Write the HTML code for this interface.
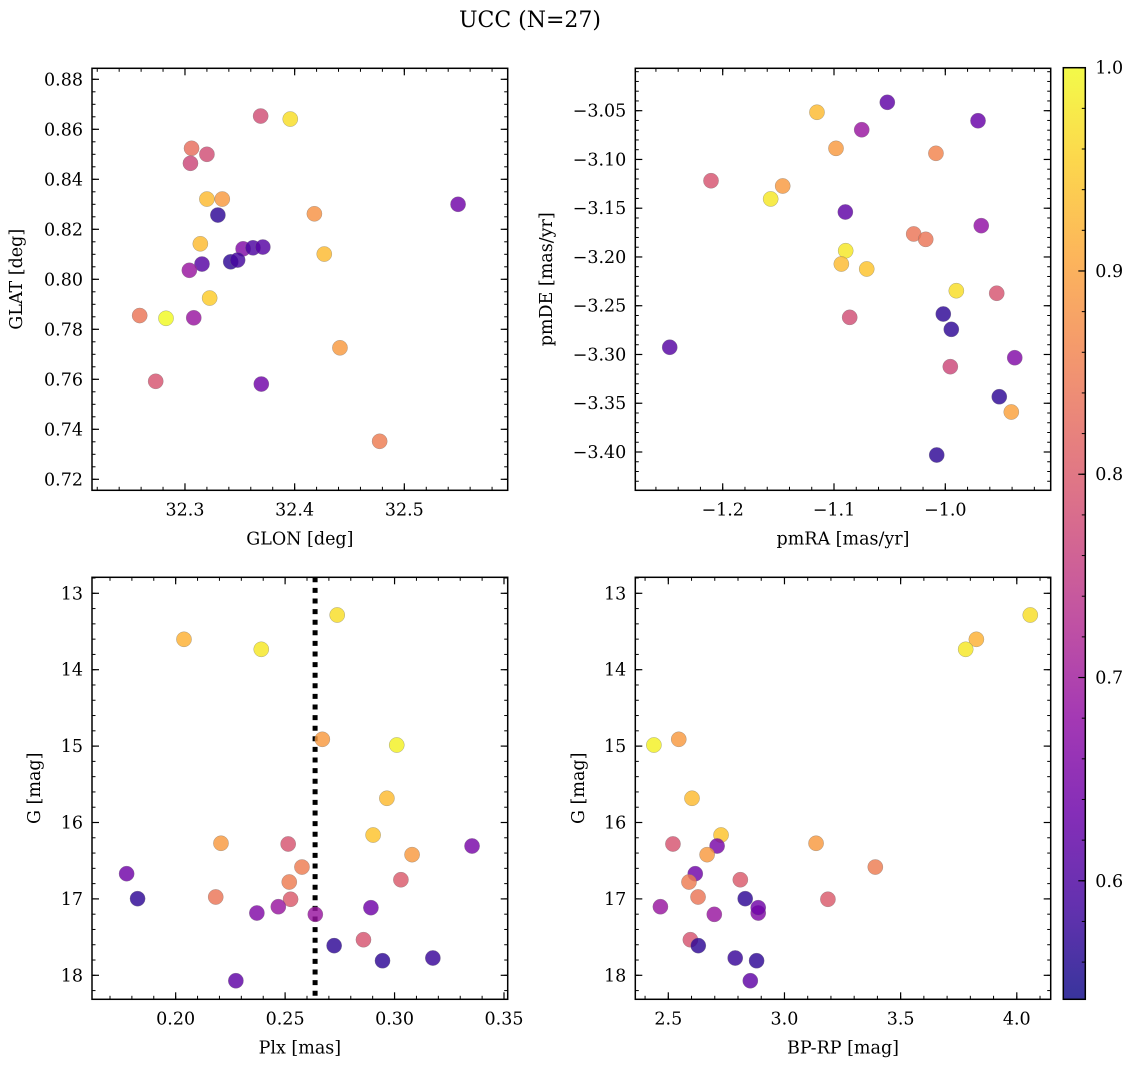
<!DOCTYPE html>
<html><head><meta charset="utf-8">
<style>
html,body{margin:0;padding:0;background:#fff;}
svg{display:block;font-family:"DejaVu Serif","Liberation Serif",serif;}
</style></head>
<body>
<svg id="fig" width="1136" height="1067" viewBox="0 0 1136 1067" xmlns="http://www.w3.org/2000/svg">
<rect width="1136" height="1067" fill="#fff"/>
<text x="530" y="27" font-size="22" text-anchor="middle" fill="#000">UCC (N=27)</text>
</svg>
<script>
// ---- Panel A: GLON / GLAT ----
const glon = [32.369,32.396,32.306,32.320,32.305,32.320,32.334,32.330,32.418,32.549,32.314,32.353,32.362,32.371,32.427,32.3155,32.3417,32.348,32.304,32.3225,32.2587,32.2827,32.308,32.4413,32.2733,32.3696,32.4775];
const glat = [0.8653,0.8641,0.8524,0.850,0.8464,0.8321,0.8321,0.8257,0.8262,0.830,0.8142,0.8122,0.8126,0.8129,0.8101,0.8061,0.8070,0.8077,0.8036,0.7925,0.7855,0.7844,0.7846,0.7726,0.7592,0.7581,0.7352];
const probA = [0.78,0.97,0.83,0.78,0.77,0.93,0.89,0.57,0.88,0.64,0.93,0.66,0.60,0.61,0.93,0.61,0.57,0.59,0.69,0.95,0.84,1.0,0.69,0.89,0.79,0.64,0.85];
// ---- Panel B: pmRA / pmDE ----
const pmra = [-1.0521,-1.1153,-1.0751,-0.9706,-1.0982,-1.0084,-1.2105,-1.1461,-1.1569,-1.0898,-0.9677,-1.0284,-1.0176,-1.0895,-1.0934,-1.0706,-0.9901,-0.9538,-1.0859,-1.0018,-0.9946,-1.2476,-0.9376,-0.9955,-0.9515,-0.9407,-1.0077];
const pmde = [-3.0414,-3.0516,-3.0695,-3.0603,-3.0886,-3.0937,-3.1218,-3.1272,-3.1405,-3.1539,-3.1679,-3.1764,-3.1819,-3.1936,-3.2072,-3.2123,-3.2346,-3.2372,-3.2619,-3.2585,-3.2742,-3.2926,-3.3033,-3.3125,-3.3433,-3.3590,-3.4031];
const probB = [0.62,0.93,0.69,0.63,0.89,0.86,0.79,0.89,0.98,0.62,0.68,0.84,0.84,0.98,0.93,0.94,0.97,0.79,0.78,0.57,0.57,0.61,0.66,0.77,0.57,0.90,0.57];
// ---- Panels C/D: Plx, G, BP-RP ----
const plx  = [0.2738,0.2038,0.2391,0.2670,0.3010,0.2965,0.2902,0.2207,0.2514,0.3354,0.3080,0.1776,0.2577,0.2519,0.3029,0.1826,0.2183,0.2525,0.2469,0.2371,0.2638,0.2892,0.2858,0.2724,0.3175,0.2945,0.2275];
const gmag = [13.284,13.602,13.733,14.911,14.986,15.683,16.164,16.272,16.281,16.308,16.421,16.670,16.583,16.779,16.749,16.997,16.975,17.005,17.102,17.185,17.202,17.115,17.534,17.612,17.774,17.809,18.071];
const bprp = [4.058,3.826,3.780,2.545,2.438,2.602,2.727,3.136,2.520,2.710,2.667,2.616,3.391,2.589,2.810,2.831,2.628,3.187,2.466,2.887,2.698,2.887,2.595,2.629,2.788,2.880,2.853];
const probC = [0.97,0.92,0.98,0.89,0.99,0.93,0.94,0.89,0.79,0.65,0.89,0.64,0.85,0.85,0.80,0.57,0.84,0.80,0.69,0.66,0.69,0.64,0.79,0.57,0.58,0.57,0.62];
const plxCut = [0.2637];
// ticks
const ticksA_x=[32.3,32.4,32.5], ticksA_y=[0.72,0.74,0.76,0.78,0.80,0.82,0.84,0.86,0.88];
const ticksB_x=[-1.2,-1.1,-1.0], ticksB_y=[-3.05,-3.10,-3.15,-3.20,-3.25,-3.30,-3.35,-3.40];
const ticksC_x=[0.20,0.25,0.30,0.35], ticksG=[13,14,15,16,17,18];
const ticksD_x=[2.5,3.0,3.5,4.0];
const cbTicks=[0.6,0.7,0.8,0.9,1.0];
const vmin=0.5417, vmax=1.0;

const NS="http://www.w3.org/2000/svg";
const svg=document.getElementById('fig');
function el(tag,attrs,parent){const e=document.createElementNS(NS,tag);for(const k in attrs)e.setAttribute(k,attrs[k]);(parent||svg).appendChild(e);return e;}

const plasma=[[13,8,135],[65,4,157],[106,0,168],[143,13,164],[177,42,144],[204,71,120],[225,100,98],[242,132,75],[252,166,54],[252,206,37],[240,249,33]];
function cmap(v){let t=(v-vmin)/(vmax-vmin);t=Math.max(0,Math.min(1,t))*10;const i=Math.min(9,Math.floor(t)),f=t-i;const a=plasma[i],b=plasma[i+1];
 return 'rgb('+a.map((c,k)=>Math.round(c+(b[k]-c)*f)).join(',')+')';}

function fmt(v,d){let s=v.toFixed(d);return s.replace('-','\u2212');}

function panel(o){
  const g=el('g',{});
  
  
  const sx=v=>o.x0+(v-o.xmin)/(o.xmax-o.xmin)*(o.x1-o.x0);
  const sy=o.inv? v=>o.y0+(v-o.ymin)/(o.ymax-o.ymin)*(o.y1-o.y0) : v=>o.y1-(v-o.ymin)/(o.ymax-o.ymin)*(o.y1-o.y0);
  const mt=(a,b,st)=>{const r=[];for(let v=Math.ceil(a/st-1e-6)*st;v<=b+1e-9;v+=st)r.push(v);return r;};
  mt(o.xmin,o.xmax,o.xminor).forEach(v=>{const x=sx(v);
    el('line',{x1:x,x2:x,y1:o.y1,y2:o.y1-3.5,stroke:'#000','stroke-width':1},g);
    el('line',{x1:x,x2:x,y1:o.y0,y2:o.y0+3.5,stroke:'#000','stroke-width':1},g);});
  mt(Math.min(o.ymin,o.ymax),Math.max(o.ymin,o.ymax),o.yminor).forEach(v=>{const y=sy(v);
    el('line',{x1:o.x0,x2:o.x0+3.5,y1:y,y2:y,stroke:'#000','stroke-width':1},g);
    el('line',{x1:o.x1,x2:o.x1-3.5,y1:y,y2:y,stroke:'#000','stroke-width':1},g);});
  o.xt.forEach(v=>{const x=sx(v);
    el('line',{x1:x,x2:x,y1:o.y1,y2:o.y1-7,stroke:'#000','stroke-width':1.2},g);
    el('line',{x1:x,x2:x,y1:o.y0,y2:o.y0+7,stroke:'#000','stroke-width':1.2},g);
    const t=el('text',{x:x,y:o.y1+25,'font-size':17.5,'text-anchor':'middle'},g);t.textContent=fmt(v,o.xd);
    
    });
  o.yt.forEach(v=>{const y=sy(v);
    el('line',{x1:o.x0,x2:o.x0+7,y1:y,y2:y,stroke:'#000','stroke-width':1.2},g);
    el('line',{x1:o.x1,x2:o.x1-7,y1:y,y2:y,stroke:'#000','stroke-width':1.2},g);
    const t=el('text',{x:o.x0-9,y:y+6,'font-size':17.5,'text-anchor':'end'},g);t.textContent=fmt(v,o.yd);
    
    });
  if(o.vline){o.vline.forEach(v=>{const x=sx(v);const l=el('line',{x1:x,x2:x,y1:o.y0,y2:o.y1,stroke:'#000','stroke-width':5,'stroke-dasharray':'5 5.6'},g);
    
    });}
  o.xs.forEach((xv,i)=>{const c=el('circle',{cx:sx(xv),cy:sy(o.ys[i]),r:7.6,fill:cmap(o.c[i]),'fill-opacity':0.82,stroke:'#777','stroke-opacity':0.6,'stroke-width':0.5},g);
    
    });
  el('rect',{x:o.x0,y:o.y0,width:o.x1-o.x0,height:o.y1-o.y0,fill:'none',stroke:'#000','stroke-width':1.5},g);
  const xl=el('text',{x:(o.x0+o.x1)/2,y:o.y1+54,'font-size':17.5,'text-anchor':'middle'},g);xl.textContent=o.xlab;
  
  
  const yl=el('text',{x:0,y:0,'font-size':17.5,'text-anchor':'middle',transform:'translate('+o.ylx+','+(o.y0+o.y1)/2+') rotate(-90)'},g);yl.textContent=o.ylab;
  
  
}
panel({name:'glon-glat-panel',x0:92,x1:507.7,y0:68.3,y1:490.3,xmin:32.3-93/1097,xmax:32.5+103.4/1097,ymin:0.72-(490.3-479.3)/2500,ymax:0.88+11/2500,
  xminor:0.02,yminor:0.005,xt:ticksA_x,yt:ticksA_y,xd:1,yd:2,xs:glon,ys:glat,c:probA,xlab:'GLON [deg]',ylab:'GLAT [deg]',ylx:22});
panel({name:'pm-panel',x0:635.3,x1:1050.7,y0:68.3,y1:490.3,xmin:-1.2-87.4/1113,xmax:-1.0+105.4/1113,ymin:-3.40-38.3/975.2,ymax:-3.05+42.4/975.2,
  xminor:0.02,yminor:0.01,xt:ticksB_x,yt:ticksB_y,xd:1,yd:2,xs:pmra,ys:pmde,c:probB,xlab:'pmRA [mas/yr]',ylab:'pmDE [mas/yr]',ylx:552});
panel({name:'plx-g-panel',x0:92,x1:507.7,y0:577.3,y1:999.3,xmin:0.2-83.7/2190,xmax:0.35+3.7/2190,ymin:13-16/76.4,ymax:18+(999.3-975.3)/76.4,inv:true,
  xminor:0.01,yminor:0.2,xt:ticksC_x,yt:ticksG,xd:2,yd:0,xs:plx,ys:gmag,c:probC,xlab:'Plx [mas]',ylab:'G [mag]',ylx:40,vline:plxCut});
panel({name:'cmd-panel',x0:635.3,x1:1050.7,y0:577.3,y1:999.3,xmin:2.5-33/232.3,xmax:4.0+33.9/232.3,ymin:13-16/76.4,ymax:18+(999.3-975.3)/76.4,inv:true,
  xminor:0.1,yminor:0.2,xt:ticksD_x,yt:ticksG,xd:1,yd:0,xs:bprp,ys:gmag,c:probC,xlab:'BP-RP [mag]',ylab:'G [mag]',ylx:584});

// colorbar
(function(){
  const x0=1063.3,x1=1085.3,y0=67.7,y1=999.3;
  const g=el('g',{});
  
  
  const defs=el('defs',{},g);
  const lg=el('linearGradient',{id:'cbg',x1:0,y1:1,x2:0,y2:0},defs);
  for(let i=0;i<=20;i++){const v=vmin+(vmax-vmin)*i/20;el('stop',{offset:(i/20),'stop-color':cmap(v),'stop-opacity':0.82},lg);}
  el('rect',{x:x0,y:y0,width:x1-x0,height:y1-y0,fill:'url(#cbg)'},g);
  const sy=v=>y1-(v-vmin)/(vmax-vmin)*(y1-y0);
  for(let v=0.56;v<=1.0001;v+=0.02){const y=sy(v);el('line',{x1:x1,x2:x1-3.5,y1:y,y2:y,stroke:'#000','stroke-width':1},g);}
  cbTicks.forEach(v=>{const y=sy(v);el('line',{x1:x1,x2:x1-7,y1:y,y2:y,stroke:'#000','stroke-width':1.2},g);
    const t=el('text',{x:x1+10,y:y+6,'font-size':17.5},g);t.textContent=v.toFixed(1);
    
    });
  el('rect',{x:x0,y:y0,width:x1-x0,height:y1-y0,fill:'none',stroke:'#000','stroke-width':1.5},g);
})();
</script>
</body></html>
